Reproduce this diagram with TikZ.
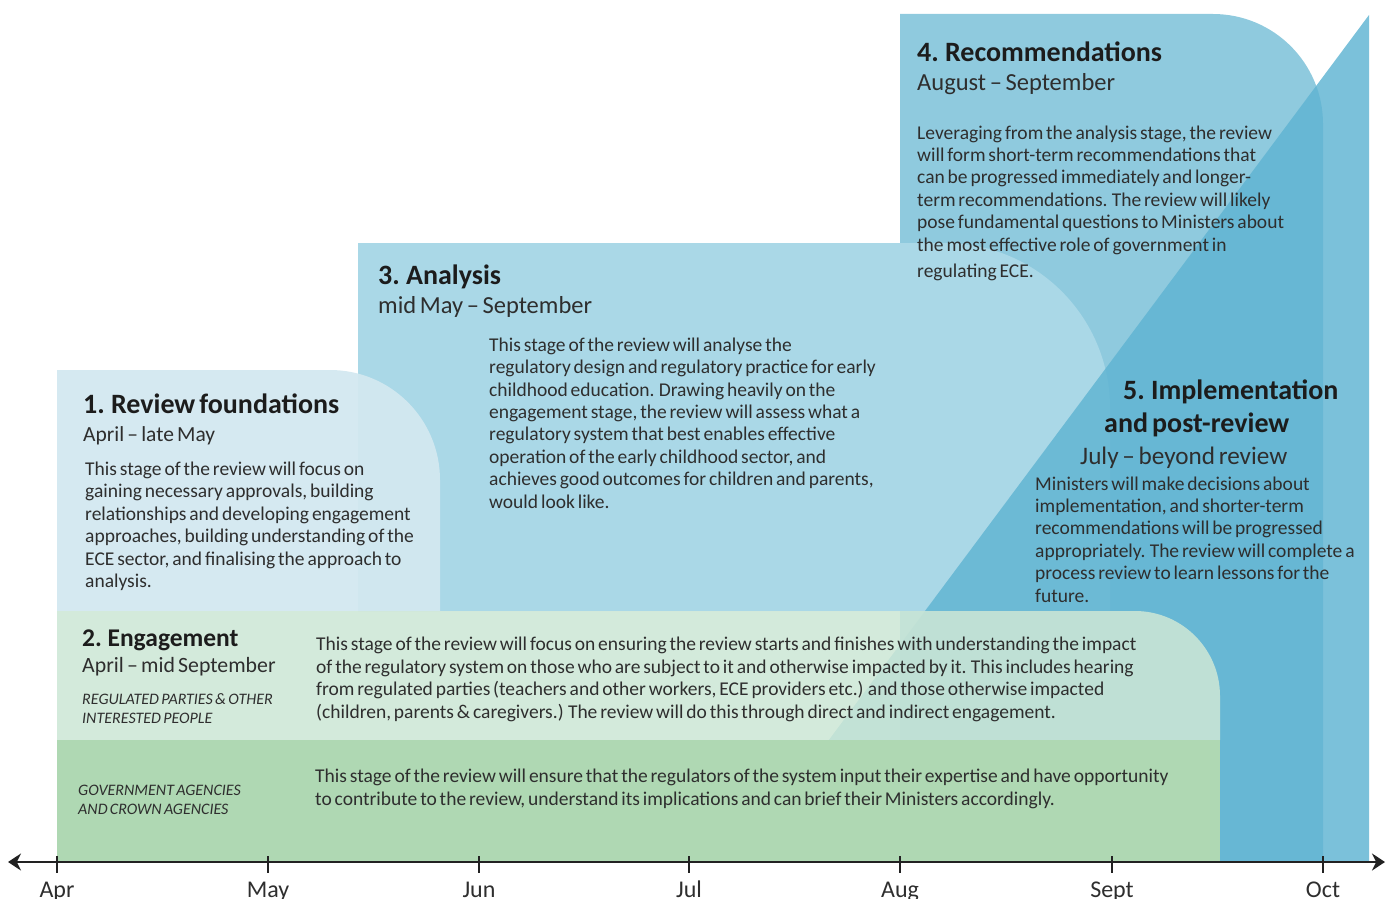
\documentclass[tikz,border=0pt]{standalone}
\usepackage{fontspec}
\setmainfont{Carlito}[WordSpace=0.65]
\usepackage{tikz}
\usetikzlibrary{arrows.meta}

\definecolor{recblue}{HTML}{8FCADE}
\definecolor{anablue}{HTML}{AAD8E7}
\definecolor{impblue}{HTML}{60B4D2}
\definecolor{foundblue}{HTML}{D3E8F0}
\definecolor{enggreen}{HTML}{CDE7D6}
\definecolor{govgreen}{HTML}{AFD8B3}
\definecolor{textcol}{HTML}{2E2E2E}
\definecolor{titlecol}{HTML}{1C1C1C}
\definecolor{axiscol}{HTML}{222222}

\begin{document}
\begin{tikzpicture}[x=1pt, y=-1pt]
\tikzset{
  stagetitle/.style={anchor=base west, inner sep=0, text=titlecol, font=\fontsize{28}{33}\selectfont\bfseries},
  stagedate/.style={anchor=base west, inner sep=0, text=textcol, font=\fontsize{21.5}{26}\selectfont},
  stagebody/.style={anchor=base west, inner sep=0, align=left, text=textcol, font=\fontsize{19.5}{22.4}\selectfont},
  groupnote/.style={anchor=base west, inner sep=0, align=left, text=textcol, font=\fontsize{16}{19}\selectfont\itshape},
  month/.style={anchor=base, inner sep=0, text=textcol, font=\fontsize{24}{28}\selectfont},
  monthtick/.style={draw=axiscol, line width=2.5pt}
}
\useasboundingbox (0,0) rectangle (1387,899);

% stage shapes, back to front
\fill[recblue] (900,862) -- (900,14) -- (1213,14) .. controls (1273.8,14) and (1323,63.2) .. (1323,124) -- (1323,862) -- cycle;
\fill[anablue] (358,611) -- (358,243) -- (945,243) .. controls (1036.1,243) and (1110,316.9) .. (1110,408) -- (1110,611) -- cycle;
\fill[impblue, fill opacity=0.83] (1369,15) -- (1369,862) -- (738,862) -- cycle;
\fill[foundblue, fill opacity=0.95] (57,611) -- (57,370) -- (330,370) .. controls (390.8,370) and (440,419.2) .. (440,480) -- (440,611) -- cycle;
\fill[enggreen, fill opacity=0.87] (57,740) -- (57,611) -- (1135,611) .. controls (1181.9,611) and (1220,649.1) .. (1220,696) -- (1220,740) -- cycle;
\fill[govgreen] (57,740) rectangle (1220,862);

% 1. review foundations (body nodes sit on their last baseline)
\node[stagetitle] (found) at (83,413) {1. Review foundations};
\node[stagedate] (founddate) at (83,441) {April – late May};
\node[stagebody] (foundtext) at (85,587.5) {This stage of the review will focus on\\
gaining necessary approvals, building\\
relationships and developing engagement\\
approaches, building understanding of the\\
ECE sector, and finalising the approach to\\
analysis.};

% 3. analysis
\node[stagetitle] (ana) at (378,284) {3. Analysis};
\node[stagedate, font=\fontsize{24.5}{29}\selectfont] (anadate) at (378,313) {mid May – September};
\node[stagebody] (anatext) at (489,508) {This stage of the review will analyse the\\
regulatory design and regulatory practice for early\\
childhood education. Drawing heavily on the\\
engagement stage, the review will assess what a\\
regulatory system that best enables effective\\
operation of the early childhood sector, and\\
achieves good outcomes for children and parents,\\
would look like.};

% 4. recommendations
\node[stagetitle] (rec) at (917,62) {4. Recommendations};
\node[stagedate, font=\fontsize{24.5}{29}\selectfont] (recdate) at (917,91) {August – September};
\node[stagebody] (rectext) at (917,277) {Leveraging from the analysis stage, the review\\
will form short-term recommendations that\\
can be progressed immediately and longer-\\
term recommendations. The review will likely\\
pose fundamental questions to Ministers about\\
the most effective role of government in\\[3.5pt]
regulating ECE.};

% 5. implementation
\node[stagetitle] (imp) at (1123,399) {5. Implementation};
\node[stagetitle] (imp2) at (1104,432) {and post-review};
\node[stagedate, font=\fontsize{25.2}{30}\selectfont] (impdate) at (1080,464) {July – beyond review};
\node[stagebody] (imptext) at (1035,602) {Ministers will make decisions about\\
implementation, and shorter-term\\
recommendations will be progressed\\
appropriately. The review will complete a\\
process review to learn lessons for the\\
future.};

% 2. engagement
\node[stagetitle, font=\fontsize{25.5}{30}\selectfont\bfseries] (eng) at (82,646) {2. Engagement};
\node[stagedate, font=\fontsize{21.8}{26}\selectfont] (engdate) at (82,672) {April – mid September};
\node[groupnote] (engwho) at (82,723) {REGULATED PARTIES \& OTHER\\INTERESTED PEOPLE};
\node[stagebody] (engtext) at (316,718) {This stage of the review will focus on ensuring the review starts and finishes with understanding the impact\\
of the regulatory system on those who are subject to it and otherwise impacted by it. This includes hearing\\
from regulated parties (teachers and other workers, ECE providers etc.) and those otherwise impacted\\
(children, parents \& caregivers.) The review will do this through direct and indirect engagement.};
\node[groupnote] (govwho) at (78,814) {GOVERNMENT AGENCIES\\AND CROWN AGENCIES};
\node[stagebody] (govtext) at (315,805) {This stage of the review will ensure that the regulators of the system input their expertise and have opportunity\\
to contribute to the review, understand its implications and can brief their Ministers accordingly.};

% time axis
\coordinate (axisL) at (8,862);
\coordinate (axisR) at (1385,862);
\draw[axiscol, line width=2.5pt, {Stealth[length=13pt,width=17pt]}-{Stealth[length=13pt,width=17pt]}] (axisL) -- (axisR);
\foreach \x/\m in {57/Apr, 268/May, 479/Jun, 689/Jul, 900/Aug, 1112/Sept, 1323/Oct} {
  \draw[monthtick] (\x,856) -- (\x,873);
  \node[month] (m\m) at (\x,897) {\m};
}
\end{tikzpicture}
\end{document}
